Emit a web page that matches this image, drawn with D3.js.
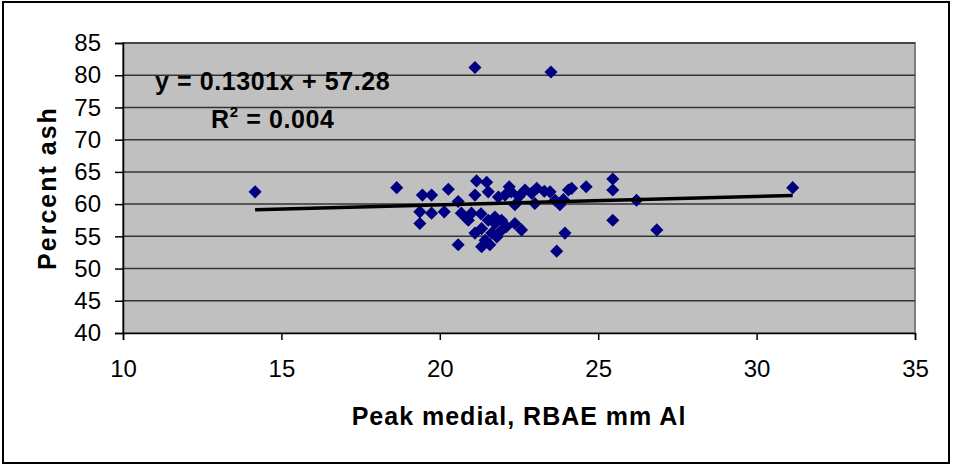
<!DOCTYPE html>
<html>
<head>
<meta charset="utf-8">
<title>Percent ash vs peak medial</title>
<style>
  body { margin: 0; background: #fff; }
  svg { font-family: "Liberation Sans", Arial, sans-serif; display: block; }
  .tick text { font-size: 24px; fill: #000; }
  .axis-title { font-size: 25px; font-weight: bold; letter-spacing: 1px; }
  .eq { font-size: 25px; font-weight: bold; letter-spacing: 0.6px; }
</style>
</head>
<body>
<div id="chart"></div>
<script src="https://d3js.org/d3.v7.min.js"></script>
<script>
// values
var peakMedial = [14.17, 18.64, 19.37, 19.37, 19.45, 19.74, 19.74, 20.14, 20.27, 20.58,
  20.58, 20.68, 20.84, 21.0, 21.11, 21.11, 21.11, 21.16, 21.32, 21.32,
  21.43, 21.48, 21.53, 21.53, 21.58, 21.64, 21.74, 21.74, 21.85, 21.9,
  21.95, 22.06, 22.19, 22.37, 22.37, 22.58, 22.69, 23.0, 23.06, 23.48,
  23.51, 23.64, 23.69, 23.79, 23.95, 24.06, 24.16, 24.62, 25.46, 25.46,
  25.46, 26.21, 26.85, 31.14, 22.25, 22.9, 23.3, 22.5, 23.9, 21.3,
  20.9, 22.1, 21.8];
var percentAsh = [61.9, 62.55, 57.0, 58.8, 61.4, 61.4, 58.6, 58.8, 62.3, 60.4,
  53.7, 58.6, 57.8, 58.6, 61.4, 55.5, 81.2, 63.6, 53.4, 56.2,
  54.4, 63.4, 61.9, 57.5, 53.7, 55.5, 58.0, 57.0, 61.1, 55.7,
  57.5, 61.4, 62.7, 59.9, 57.0, 56.0, 62.2, 60.1, 62.45, 61.9,
  80.5, 60.6, 52.7, 59.9, 55.5, 62.2, 62.45, 62.7, 63.9, 62.2,
  57.5, 60.6, 56.0, 62.55, 61.9, 61.7, 62.0, 61.2, 60.7, 58.5,
  57.5, 56.5, 54.9];
var xTicks = [10, 15, 20, 25, 30, 35];
var yTicks = [40, 45, 50, 55, 60, 65, 70, 75, 80, 85];
var slope = 0.1301, intercept = 57.28, rSquared = "0.004";

var W = 955, H = 466;
var svg = d3.select("#chart").append("svg").attr("width", W).attr("height", H);

// outer chart border
svg.append("rect").attr("x", 3).attr("y", 2).attr("width", 946).attr("height", 461)
  .attr("fill", "#fff").attr("stroke", "#000").attr("stroke-width", 2);

var x = d3.scaleLinear().domain([10, 35]).range([123, 915]);
var y = d3.scaleLinear().domain([40, 85]).range([333, 43]);

// plot area
svg.append("rect").attr("x", x(10)).attr("y", y(85))
  .attr("width", x(35) - x(10)).attr("height", y(40) - y(85))
  .attr("fill", "#c0c0c0").attr("stroke", "#808080").attr("stroke-width", 2);

// gridlines
svg.append("g").selectAll("line").data(yTicks.slice(1)).enter().append("line")
  .attr("x1", x(10)).attr("x2", x(35))
  .attr("y1", d => y(d)).attr("y2", d => y(d))
  .attr("stroke", "#333").attr("stroke-width", 1.5);

var xAxis = svg.append("g").attr("transform", "translate(0," + y(40) + ")")
  .call(d3.axisBottom(x).tickValues(xTicks).tickSize(7).tickPadding(20));
var yAxis = svg.append("g").attr("transform", "translate(" + x(10) + ",0)")
  .call(d3.axisLeft(y).tickValues(yTicks).tickSize(8).tickPadding(14));
[xAxis, yAxis].forEach(function (a) {
  a.attr("font-family", null).attr("font-size", null);
  a.select(".domain").attr("stroke", "#000").attr("stroke-width", 1.5);
  a.selectAll(".tick line").attr("stroke", "#000").attr("stroke-width", 1.5);
});

// points
var pts = peakMedial.map((v, i) => ({ x: v, y: percentAsh[i] }));
var diamond = d3.symbol().type(d3.symbolSquare).size(86);
svg.append("g").selectAll("path").data(pts).enter().append("path")
  .attr("d", diamond)
  .attr("transform", d => "translate(" + x(d.x) + "," + y(d.y) + ") rotate(45)")
  .attr("fill", "#000080");

// linear trendline over the data range
var ext = d3.extent(peakMedial);
var line = d3.line().x(d => x(d)).y(d => y(slope * d + intercept));
svg.append("path").datum(ext).attr("d", line)
  .attr("fill", "none").attr("stroke", "#000").attr("stroke-width", 3.5);

// equation labels
svg.append("text").attr("class", "eq").attr("x", 155).attr("y", 90)
  .text("y = " + slope + "x + " + intercept);
var r2 = svg.append("text").attr("class", "eq").attr("x", 211).attr("y", 128);
r2.append("tspan").text("R");
r2.append("tspan").attr("font-size", "15px").attr("dy", -11).text("2");
r2.append("tspan").attr("dy", 11).text(" = " + rSquared);

// axis titles
svg.append("text").attr("class", "axis-title").attr("text-anchor", "middle")
  .attr("x", (x(10) + x(35)) / 2).attr("y", 425).text("Peak medial, RBAE mm Al");
svg.append("text").attr("class", "axis-title").attr("text-anchor", "middle")
  .style("letter-spacing", "2px")
  .attr("transform", "translate(56," + (y(40) + y(85)) / 2 + ") rotate(-90)")
  .text("Percent ash");
</script>
</body>
</html>
